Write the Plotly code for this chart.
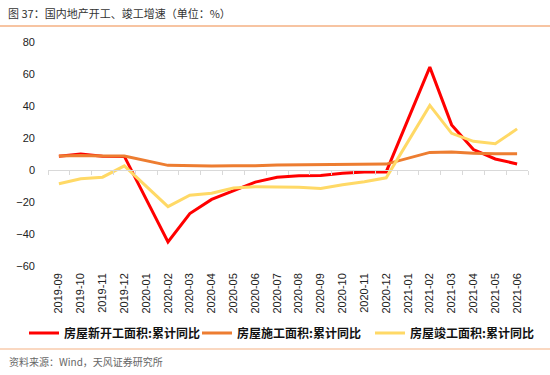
import plotly.graph_objects as go

categories = ["2019-09", "2019-10", "2019-11", "2019-12",
              "2020-01", "2020-02", "2020-03", "2020-04", "2020-05", "2020-06",
              "2020-07", "2020-08", "2020-09", "2020-10", "2020-11", "2020-12",
              "2021-01", "2021-02", "2021-03", "2021-04", "2021-05", "2021-06"]

new_start = [8.6, 10.0, 8.6, 8.5, None, -44.9, -27.2, -18.4, -12.8, -7.6,
             -4.5, -3.6, -3.4, -2.0, -1.3, -1.2, None, 64.3, 28.2, 12.8, 6.9, 3.8]
under_constr = [8.7, 9.0, 8.7, 8.7, None, 2.9, 2.6, 2.5, 2.6, 2.6,
                3.2, 3.3, 3.2, 3.2, 3.2, 3.7, None, 11.0, 11.2, 10.5, 10.1, 10.2]
completed = [-8.6, -5.5, -4.5, 2.6, None, -22.9, -15.8, -14.5, -11.2, -10.5,
             -10.7, -10.8, -11.6, -9.2, -7.3, -4.9, None, 40.4, 22.9, 17.9, 16.4, 25.7]

names = ["房屋新开工面积:累计同比", "房屋施工面积:累计同比", "房屋竣工面积:累计同比"]
colors = ["#FF0000", "#ED7D31", "#FFD966"]
y_ticks = [80, 60, 40, 20, 0, -20, -40, -60]

W, H = 550, 375
L, R, T, B = 48, 22, 42, 109
pw, ph = W - L - R, H - T - B

def px_x(x):
    return (x - L) / pw

def px_y(y):
    return (H - B - y) / ph

fig = go.Figure()
series = [new_start, under_constr, completed]
for i, (vals, nm, col) in enumerate(zip(series, names, colors)):
    fig.add_trace(go.Scatter(
        x=categories, y=vals, name=nm, mode="lines",
        line=dict(color=col, width=3), connectgaps=True,
        xaxis="x2" if i == 2 else "x", yaxis="y",
    ))

cjk = "Noto Sans CJK SC, Noto Sans, sans-serif"
fig.update_layout(
    width=W, height=H,
    margin=dict(l=L, r=R, t=T, b=B, autoexpand=False),
    paper_bgcolor="white", plot_bgcolor="white",
    font=dict(family="Liberation Sans, Arial, sans-serif", size=11, color="#222222"),
    xaxis=dict(type="category", categoryorder="array", categoryarray=categories,
               range=[-0.5, len(categories) - 0.5], automargin=False,
               showgrid=False, showline=False, zeroline=False, ticks="",
               tickangle=-90, tickfont=dict(size=11, color="#222222"),
               ticklabelstandoff=4),
    xaxis2=dict(type="category", categoryorder="array", categoryarray=categories,
                matches="x", overlaying="x", anchor="free", automargin=False,
                position=(0 - (-60)) / (80 - (-60)),
                showgrid=False, showline=True, linecolor="#D9D9D9", linewidth=1,
                ticks="outside", ticklen=4, tickcolor="#D9D9D9", tickson="boundaries",
                showticklabels=False, zeroline=False),
    yaxis=dict(range=[-60, 80], tickvals=y_ticks, showgrid=False, zeroline=False,
               showline=False, ticks="", automargin=False,
               tickfont=dict(size=11, color="#222222"),
               ticklabelstandoff=12),
    legend=dict(orientation="h", xref="paper", yref="paper",
                x=px_x(24), xanchor="left", y=px_y(333), yanchor="middle",
                font=dict(family=cjk, size=12, color="#111111", weight="bold"),
                itemwidth=30, entrywidth=128, entrywidthmode="pixels",
                bgcolor="rgba(0,0,0,0)", tracegroupgap=0),
    title=dict(text="图 37：国内地产开工、竣工增速（单位：%）",
               xref="container", yref="container", x=8 / W, xanchor="left",
               y=1 - 14 / H, yanchor="middle",
               font=dict(family=cjk, size=11, color="#333333")),
    showlegend=True,
)

fig.add_shape(type="line", xref="paper", yref="paper", layer="above",
              x0=px_x(0), x1=px_x(W), y0=px_y(26), y1=px_y(26),
              line=dict(color="#F4B183", width=1.5))
fig.add_shape(type="line", xref="paper", yref="paper", layer="above",
              x0=px_x(0), x1=px_x(W), y0=px_y(349), y1=px_y(349),
              line=dict(color="#F8CBAD", width=1.5))
fig.add_annotation(text="资料来源：Wind，天风证券研究所", xref="paper", yref="paper",
                   x=px_x(8), y=px_y(361), xanchor="left", yanchor="middle",
                   showarrow=False, borderpad=0,
                   font=dict(family=cjk, size=10, color="#666666"))

fig.write_html("out.html", config={"displayModeBar": False},
               post_script="document.body.style.margin='0';document.body.style.overflow='hidden';")
